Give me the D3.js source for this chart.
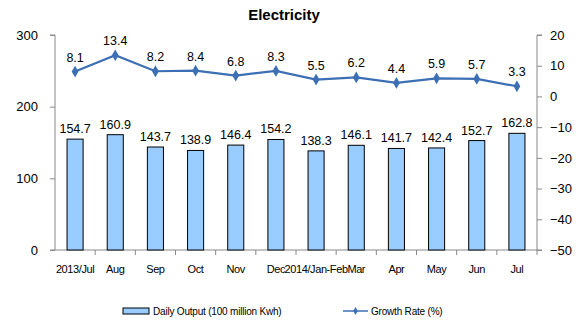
<!DOCTYPE html>
<html><head><meta charset="utf-8">
<script src="https://cdn.jsdelivr.net/npm/d3@7"></script>
<style>body{margin:0;background:#fff;font-family:"Liberation Sans",Arial,sans-serif;}</style>
</head><body><svg id="c" width="580" height="326"></svg>
<script>
const categories = ["2013/Jul","Aug","Sep","Oct","Nov","Dec","2014/Jan-Feb","Mar","Apr","May","Jun","Jul"];
const dailyOutput = [154.7,160.9,143.7,138.9,146.4,154.2,138.3,146.1,141.7,142.4,152.7,162.8];
const growthRate = [8.1,13.4,8.2,8.4,6.8,8.3,5.5,6.2,4.4,5.9,5.7,3.3];
const leftTicks = [0,100,200,300];
const rightTicks = [20,10,0,-10,-20,-30,-40,-50];

const svg = d3.select("#c");
const L = 55, R = 537, T = 35, B = 250;
const x = d3.scaleBand().domain(categories).range([L,R]).paddingInner(0.6).paddingOuter(0.3);
const xb = d3.scaleBand().domain(categories).range([L,R]);
const yL = d3.scaleLinear().domain([0,300]).range([B,T]);
const yR = d3.scaleLinear().domain([-50,20]).range([B,T]);
const font = "'Liberation Sans',Arial,sans-serif";

svg.append("text").attr("x",284).attr("y",20).attr("text-anchor","middle")
  .attr("font-family",font).attr("font-weight","bold").attr("font-size",15).text("Electricity");

// left axis
const gl = svg.append("g").attr("transform",`translate(${L},0)`)
  .call(d3.axisLeft(yL).tickValues(leftTicks).tickSize(5).tickPadding(12));
gl.selectAll("text").attr("font-family",font).attr("font-size",13).attr("fill","#000");
gl.selectAll("line,path").attr("stroke","#888");
gl.select(".domain").attr("d",`M-5,${T}H0V${B}H-5`);

// right axis
const gr = svg.append("g").attr("transform",`translate(${R},0)`)
  .call(d3.axisRight(yR).tickValues(rightTicks).tickSize(5).tickPadding(8));
gr.selectAll("text").attr("font-family",font).attr("font-size",13).attr("fill","#000");
gr.selectAll("line,path").attr("stroke","#888");
gr.select(".domain").attr("d",`M5,${T}H0V${B}H5`);

// x axis
const gx = svg.append("g").attr("transform",`translate(0,${B})`);
gx.append("line").attr("x1",L).attr("x2",R).attr("stroke","#888");
gx.selectAll("line.t").data(categories).enter().append("line")
  .attr("x1",d=>xb(d)+xb.bandwidth()).attr("x2",d=>xb(d)+xb.bandwidth()).attr("y1",0).attr("y2",5).attr("stroke","#888");
gx.selectAll("text").data(categories).enter().append("text")
  .attr("x",d=>xb(d)+xb.bandwidth()/2).attr("y",23).attr("text-anchor","middle")
  .attr("font-family",font).attr("font-size",11).attr("letter-spacing",-0.4).text(d=>d);

// bars
svg.selectAll("rect.bar").data(dailyOutput).enter().append("rect")
  .attr("x",(d,i)=>x(categories[i])).attr("width",x.bandwidth())
  .attr("y",d=>yL(d)).attr("height",d=>B-yL(d))
  .attr("fill","#99ccff").attr("stroke","#000").attr("stroke-width",1);
svg.selectAll("text.bl").data(dailyOutput).enter().append("text")
  .attr("x",(d,i)=>x(categories[i])+x.bandwidth()/2).attr("y",d=>yL(d)-6)
  .attr("text-anchor","middle").attr("font-family",font).attr("font-size",12.5).text(d=>d.toFixed(1));

// line
const line = d3.line().x((d,i)=>xb(categories[i])+xb.bandwidth()/2).y(d=>yR(d));
svg.append("path").datum(growthRate).attr("d",line).attr("fill","none").attr("stroke","#3c6fb4").attr("stroke-width",2.2);
svg.selectAll("path.m").data(growthRate).enter().append("path")
  .attr("d",d3.symbol(d3.symbolDiamond,40))
  .attr("transform",(d,i)=>`translate(${xb(categories[i])+xb.bandwidth()/2},${yR(d)})`)
  .attr("fill","#3c6fb4");
svg.selectAll("text.ll").data(growthRate).enter().append("text")
  .attr("x",(d,i)=>xb(categories[i])+xb.bandwidth()/2).attr("y",d=>yR(d)-10)
  .attr("text-anchor","middle").attr("font-family",font).attr("font-size",12.5).text(d=>d.toFixed(1));

// legend
svg.append("rect").attr("x",123).attr("y",308).attr("width",26).attr("height",6).attr("fill","#99ccff").attr("stroke","#000");
svg.append("text").attr("x",153).attr("y",315).attr("font-family",font).attr("font-size",10).attr("letter-spacing",-0.2).text("Daily Output (100 million Kwh)");
svg.append("line").attr("x1",343).attr("x2",368).attr("y1",311).attr("y2",311).attr("stroke","#3c6fb4").attr("stroke-width",1.5);
svg.append("path").attr("d",d3.symbol(d3.symbolDiamond,18)).attr("transform","translate(355.5,311)").attr("fill","#3c6fb4");
svg.append("text").attr("x",371).attr("y",315).attr("font-family",font).attr("font-size",10).attr("letter-spacing",-0.2).text("Growth Rate (%)");
</script></body></html>
